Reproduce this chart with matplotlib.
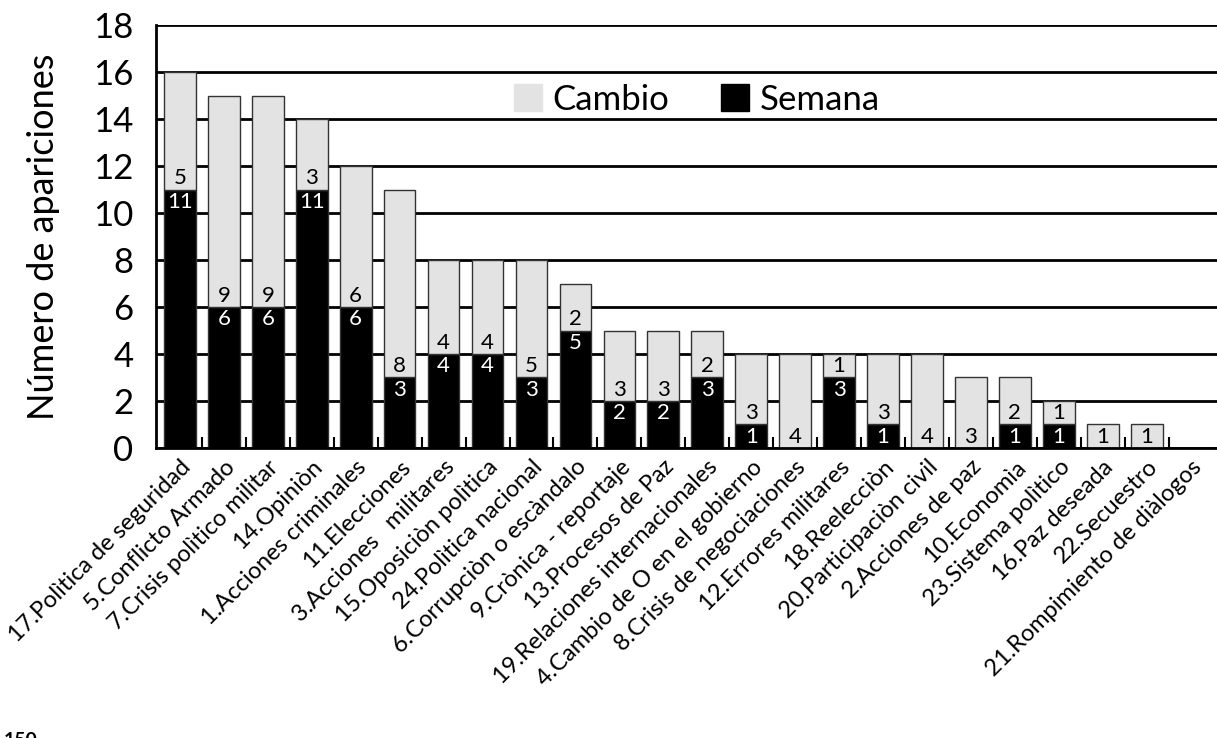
import matplotlib.pyplot as plt
import matplotlib.patches as mpatches
import numpy as np

plt.rcParams['font.family'] = ['Lato', 'DejaVu Sans']

categorias = [
    "17.Polìtica de seguridad", "5.Conflicto Armado", "7.Crisis polìtico militar",
    "14.Opiniòn", "1.Acciones criminales", "11.Elecciones", "3.Acciones   militares",
    "15.Oposiciòn polìtica", "24.Polìtica nacional", "6.Corrupciòn o escàndalo",
    "9.Crònica - reportaje", "13.Procesos de Paz", "19.Relaciones internacionales",
    "4.Cambio de O en el gobierno", "8.Crisis de negociaciones", "12.Errores militares",
    "18.Reelecciòn", "20.Participaciòn civil", "2.Acciones de paz", "10.Economìa",
    "23.Sistema polìtico", "16.Paz deseada", "22.Secuestro", "21.Rompimiento de diàlogos",
]
semana = [11, 6, 6, 11, 6, 3, 4, 4, 3, 5, 2, 2, 3, 1, 0, 3, 1, 0, 0, 1, 1, 0, 0, 0]
cambio = [5, 9, 9, 3, 6, 8, 4, 4, 5, 2, 3, 3, 2, 3, 4, 1, 3, 4, 3, 2, 1, 1, 1, 0]

gris = '#e3e3e3'

fig = plt.figure(figsize=(12.17, 7.38), dpi=100)
ax = fig.add_axes([0.128, 0.393, 0.872, 0.573])

x = np.arange(len(categorias))
w = 0.72
for yv in range(0, 19, 2):
    ax.axhline(yv, color='black', lw=2, zorder=0)

ax.bar(x, semana, w, color='black', edgecolor='#333333', lw=1, zorder=2)
ax.bar(x, cambio, w, bottom=semana, color=gris, edgecolor='#333333', lw=1, zorder=2)

for i in range(len(categorias)):
    if semana[i] > 0:
        ax.text(x[i], semana[i] - 0.1, str(semana[i]), color='white', ha='center',
                va='top', fontsize=16, zorder=3)
    if cambio[i] > 0:
        ax.text(x[i], semana[i] + 0.05, str(cambio[i]), color='black', ha='center',
                va='bottom', fontsize=16, zorder=3)

ax.set_xlim(-0.55, 23.6)
ax.set_ylim(0, 18)
ax.set_yticks(range(0, 19, 2))
ax.tick_params(axis='y', labelsize=25, length=0, pad=16)

ax.set_xticks(x)
ax.set_xticklabels(categorias, rotation=45, ha='right', rotation_mode='anchor',
                   fontsize=17)
ax.tick_params(axis='x', which='major', length=0, pad=6)
ax.set_xticks(x[:-1] + 0.5, minor=True)
ax.tick_params(axis='x', which='minor', direction='in', length=8, width=1.5)

for s in ['top', 'right']:
    ax.spines[s].set_visible(False)
ax.spines['left'].set_linewidth(2)
ax.spines['bottom'].set_linewidth(2)

ax.set_ylabel('Número de apariciones', fontsize=26, labelpad=24)

handles = [mpatches.Patch(color=gris, label='Cambio'),
           mpatches.Patch(color='black', label='Semana')]
ax.legend(handles=handles, loc='upper center', bbox_to_anchor=(0.51, 0.935), ncol=2,
          frameon=False, fontsize=25, handlelength=0.8, handleheight=0.8,
          columnspacing=1.5, handletextpad=0.3)

fig.text(0.003, -0.004, '150', fontsize=14, fontweight='bold', va='center')

fig.savefig('out.png', dpi=100)
